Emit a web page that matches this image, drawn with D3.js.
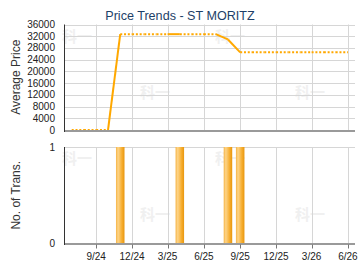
<!DOCTYPE html>
<html>
<head>
<meta charset="utf-8">
<script src="https://cdn.jsdelivr.net/npm/d3@7"></script>
<style>
  body { margin: 0; background: #fff; }
  svg { display: block; font-family: "Liberation Sans", Arial, sans-serif; }
</style>
</head>
<body>
<div id="chart"></div>
<script>
// monthly data, Jul 2024 .. Jun 2026
const months = ["2024-07","2024-08","2024-09","2024-10","2024-11","2024-12",
  "2025-01","2025-02","2025-03","2025-04","2025-05","2025-06","2025-07","2025-08",
  "2025-09","2025-10","2025-11","2025-12","2026-01","2026-02","2026-03","2026-04",
  "2026-05","2026-06"];
const avgPrice = [0,0,0,0,32700,32700,32700,32700,32700,32700,32700,32700,32700,30900,
  26500,26500,26500,26500,26500,26500,26500,26500,26500,26500];
const transCount = [0,0,0,0,1,0,0,0,0,1,0,0,0,1,1,0,0,0,0,0,0,0,0,0];
const priceTicks = [0,4000,8000,12000,16000,20000,24000,28000,32000,36000];
const countTicks = [0,1];
const dateTicks = ["2024-09","2024-12","2025-03","2025-06","2025-09","2025-12","2026-03","2026-06"];

const parse = d3.timeParse("%Y-%m");
const W = 360, H = 270;
const left = 65, right = 355;
const top1 = 24.5, bot1 = 130;
const top2 = 147, bot2 = 243.5;

const svg = d3.select("#chart").append("svg")
  .attr("width", W).attr("height", H);

const defs = svg.append("defs");
const grad = defs.append("linearGradient").attr("id", "barGrad")
  .attr("x1", "0%").attr("x2", "100%").attr("y1", "0%").attr("y2", "0%");
grad.append("stop").attr("offset", "0%").attr("stop-color", "#f6b445");
grad.append("stop").attr("offset", "25%").attr("stop-color", "#fdd488");
grad.append("stop").attr("offset", "70%").attr("stop-color", "#f6ad2e");
grad.append("stop").attr("offset", "100%").attr("stop-color", "#e8960e");

const x = d3.scaleTime()
  .domain([new Date(2024, 5, 14), new Date(2026, 5, 19)])
  .range([left, right]);
const y1 = d3.scaleLinear().domain([0, 36000]).range([bot1, top1]);
const y2 = d3.scaleLinear().domain([0, 1]).range([bot2, top2]);

// watermarks
const wm = [[62, 42], [140, 98], [215, 42], [295, 98], [62, 164], [140, 220], [215, 164], [295, 220]];
svg.append("g").selectAll("text").data(wm).enter().append("text")
  .attr("x", d => d[0]).attr("y", d => d[1])
  .style("font-family", "'Noto Sans CJK SC'")
  .style("font-weight", "bold")
  .style("font-size", "15px")
  .style("fill", "#f0f0f0")
  .text("科一");

// title
svg.append("text")
  .attr("x", 180).attr("y", 20)
  .attr("text-anchor", "middle")
  .style("font-size", "12.6px")
  .style("fill", "#1e3f68")
  .text("Price Trends - ST MORITZ");

// ---- top panel: price ----
const g1 = svg.append("g");
g1.selectAll(".hgrid").data(priceTicks).enter().append("line")
  .attr("x1", left).attr("x2", right)
  .attr("y1", d => Math.round(y1(d)) + 0.5).attr("y2", d => Math.round(y1(d)) + 0.5)
  .attr("stroke", "#d6d6d6");
g1.selectAll(".vgrid").data(dateTicks).enter().append("line")
  .attr("x1", d => Math.round(x(parse(d))) + 0.5).attr("x2", d => Math.round(x(parse(d))) + 0.5)
  .attr("y1", top1).attr("y2", bot1)
  .attr("stroke", "#d6d6d6");
g1.selectAll(".ylab").data(priceTicks).enter().append("text")
  .attr("x", 55).attr("y", d => y1(d) + 3.5)
  .attr("text-anchor", "end")
  .style("font-size", "10px").style("fill", "#222")
  .text(d => d);

// price line, solid into months with transactions, dotted otherwise
const segs = d3.range(months.length - 1).map(i => ({
  a: [parse(months[i]), avgPrice[i]],
  b: [parse(months[i + 1]), avgPrice[i + 1]],
  solid: transCount[i + 1] > 0
}));
const line = d3.line().x(d => x(d[0])).y(d => y1(d[1]));
g1.selectAll(".seg").data(segs).enter().append("path")
  .attr("d", d => line([d.a, d.b]))
  .attr("fill", "none")
  .attr("stroke", "#ffa800")
  .attr("stroke-width", 2)
  .attr("stroke-dasharray", d => d.solid ? null : "2,1.8");

g1.append("line").attr("x1", left).attr("x2", right)
  .attr("y1", bot1 + 1).attr("y2", bot1 + 1)
  .attr("stroke", "#9a9a9a").attr("stroke-width", 2);
g1.append("line").attr("x1", left - 0.5).attr("x2", left - 0.5)
  .attr("y1", top1).attr("y2", bot1 + 2)
  .attr("stroke", "#333");

svg.append("text")
  .attr("transform", `translate(20,${(top1 + bot1) / 2}) rotate(-90)`)
  .attr("text-anchor", "middle")
  .style("font-size", "12px").style("fill", "#333")
  .text("Average Price");

// ---- bottom panel: transactions ----
const g2 = svg.append("g");
g2.selectAll(".hgrid").data(countTicks).enter().append("line")
  .attr("x1", left).attr("x2", right)
  .attr("y1", d => Math.round(y2(d)) + 0.5).attr("y2", d => Math.round(y2(d)) + 0.5)
  .attr("stroke", "#d6d6d6");
g2.selectAll(".vgrid").data(dateTicks).enter().append("line")
  .attr("x1", d => Math.round(x(parse(d))) + 0.5).attr("x2", d => Math.round(x(parse(d))) + 0.5)
  .attr("y1", top2).attr("y2", bot2)
  .attr("stroke", "#d6d6d6");

const barData = months.map((m, i) => ({ date: parse(m), n: transCount[i] })).filter(d => d.n > 0);
const bw = (x(parse("2024-12")) - x(parse("2024-11"))) * 0.72;
g2.selectAll(".bar").data(barData).enter().append("rect")
  .attr("x", d => x(d.date) - bw / 2)
  .attr("y", d => y2(d.n))
  .attr("width", bw)
  .attr("height", d => y2(0) - y2(d.n))
  .attr("fill", "url(#barGrad)");

g2.append("line").attr("x1", left).attr("x2", right)
  .attr("y1", bot2 + 0.5).attr("y2", bot2 + 0.5)
  .attr("stroke", "#9a9a9a").attr("stroke-width", 2);
g2.append("line").attr("x1", left - 0.5).attr("x2", left - 0.5)
  .attr("y1", top2).attr("y2", bot2 + 1.5)
  .attr("stroke", "#333");

g2.selectAll(".ylab").data(countTicks).enter().append("text")
  .attr("x", 55).attr("y", d => y2(d) + 3.5)
  .attr("text-anchor", "end")
  .style("font-size", "10px").style("fill", "#222")
  .text(d => d);

// x ticks and labels
const fmt = d => `${d.getMonth() + 1}/${String(d.getFullYear()).slice(2)}`;
g2.selectAll(".xtick").data(dateTicks).enter().append("line")
  .attr("x1", d => Math.round(x(parse(d))) + 0.5).attr("x2", d => Math.round(x(parse(d))) + 0.5)
  .attr("y1", bot2 + 1).attr("y2", bot2 + 5)
  .attr("stroke", "#777");
g2.selectAll(".xlab").data(dateTicks).enter().append("text")
  .attr("x", d => x(parse(d)))
  .attr("y", 260)
  .attr("text-anchor", "middle")
  .style("font-size", "10px").style("fill", "#222")
  .text(d => fmt(parse(d)));

svg.append("text")
  .attr("transform", `translate(20,${(top2 + bot2) / 2}) rotate(-90)`)
  .attr("text-anchor", "middle")
  .style("font-size", "12px").style("fill", "#333")
  .text("No. of Trans.");
</script>
</body>
</html>
